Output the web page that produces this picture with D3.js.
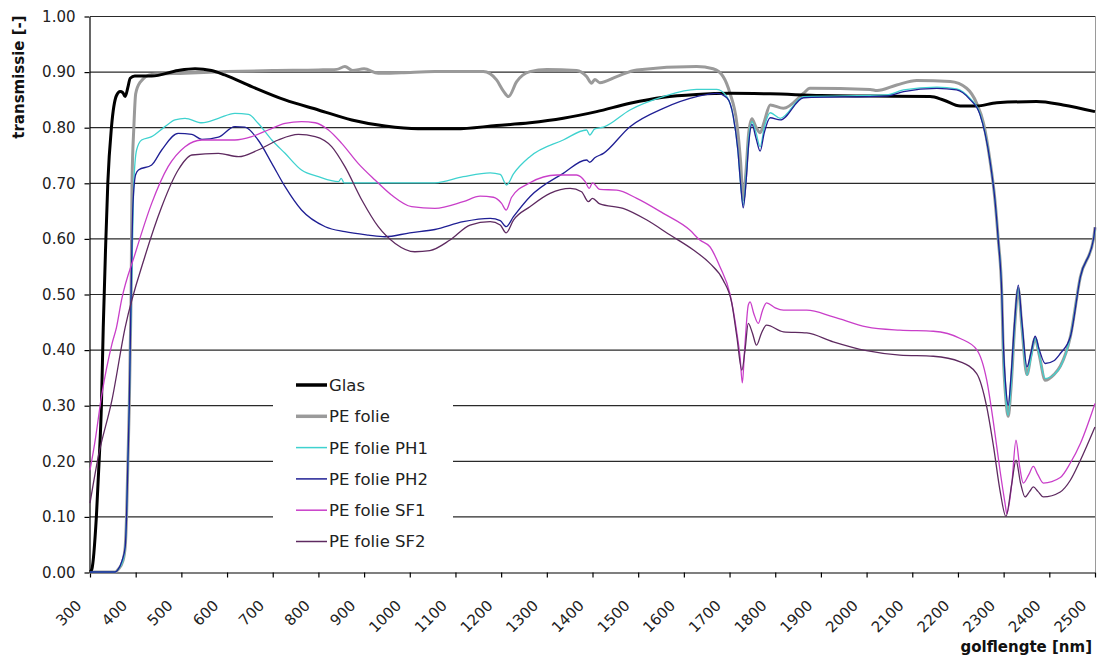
<!DOCTYPE html>
<html>
<head>
<meta charset="utf-8">
<script src="https://cdn.jsdelivr.net/npm/d3@7"></script>
<style>
  html, body { margin: 0; padding: 0; background: #ffffff; }
  svg { display: block; font-family: "DejaVu Sans", Verdana, sans-serif; }
</style>
</head>
<body>
<svg id="chart" width="1099" height="661"></svg>
<script>
// Transmission spectra: wavelength (nm) and transmission (-) per sample
const glasNm = [300,304,314,320,325,329,334,339,347,358,366,372,377,383,388,398,435,493,530,566,595,654,727,800,873,946,1018,1100,1190,1263,1336,1409,1482,1555,1628,1700,1789,1900,2008,2139,2168,2205,2241,2285,2372,2430,2500];
const glasT  = [0.00,0.005,0.10,0.20,0.30,0.44,0.58,0.70,0.80,0.857,0.864,0.862,0.855,0.872,0.888,0.892,0.892,0.902,0.905,0.902,0.894,0.873,0.849,0.831,0.813,0.802,0.797,0.797,0.803,0.808,0.816,0.828,0.843,0.854,0.859,0.861,0.860,0.857,0.856,0.855,0.849,0.838,0.838,0.844,0.846,0.840,0.828];

const peNm = [300,355,362,372,377,380,383,386,388,390,392,396,400,409,435,508,600,700,800,840,858,875,900,931,982,1055,1161,1190,1205,1216,1234,1263,1300,1365,1387,1398,1405,1416,1453,1497,1628,1664,1686,1701,1716,1724,1730,1736,1742,1749,1758,1767,1776,1789,1818,1862,1876,2008,2023,2066,2110,2183,2219,2241,2256,2270,2281,2288,2296,2299,2305,2310,2316,2324,2332,2340,2351,2360,2369,2378,2391,2410,2424,2446,2468,2497,2500];
const peT  = [0,0,0.005,0.02,0.045,0.10,0.20,0.30,0.40,0.50,0.70,0.80,0.86,0.88,0.895,0.897,0.90,0.902,0.903,0.904,0.909,0.902,0.905,0.897,0.898,0.90,0.90,0.885,0.865,0.855,0.882,0.90,0.904,0.902,0.891,0.879,0.886,0.880,0.891,0.903,0.909,0.905,0.891,0.861,0.807,0.74,0.67,0.72,0.79,0.815,0.80,0.79,0.81,0.84,0.834,0.861,0.870,0.868,0.866,0.876,0.884,0.882,0.870,0.843,0.807,0.741,0.669,0.60,0.50,0.40,0.31,0.28,0.33,0.44,0.51,0.44,0.355,0.39,0.42,0.39,0.345,0.355,0.37,0.423,0.531,0.60,0.62];

const ph1Nm = [300,355,362,372,377,380,383,386,388,392,396,402,413,435,464,486,508,545,581,617,647,668,698,727,763,800,844,850,856,909,1000,1055,1117,1176,1198,1212,1227,1263,1336,1387,1394,1405,1424,1482,1555,1628,1672,1694,1708,1718,1724,1730,1736,1742,1749,1758,1767,1776,1789,1811,1862,2044,2081,2154,2197,2226,2248,2270,2281,2288,2296,2299,2305,2310,2316,2324,2332,2340,2351,2360,2369,2378,2391,2410,2424,2446,2468,2497,2500];
const ph1T  = [0,0,0.005,0.02,0.045,0.10,0.20,0.30,0.40,0.55,0.70,0.759,0.777,0.783,0.801,0.813,0.816,0.808,0.816,0.825,0.823,0.807,0.777,0.753,0.723,0.711,0.702,0.708,0.70,0.70,0.70,0.70,0.711,0.718,0.715,0.696,0.716,0.747,0.777,0.795,0.786,0.797,0.80,0.831,0.855,0.868,0.868,0.855,0.82,0.76,0.70,0.66,0.71,0.78,0.81,0.79,0.765,0.80,0.826,0.816,0.855,0.858,0.867,0.872,0.869,0.852,0.825,0.741,0.669,0.60,0.50,0.40,0.31,0.282,0.33,0.44,0.51,0.44,0.354,0.385,0.42,0.39,0.348,0.355,0.369,0.423,0.531,0.60,0.615];

const ph2Nm = [300,355,360,370,377,380,383,386,388,391,394,400,406,435,457,493,523,545,581,617,639,668,698,727,763,815,858,909,946,1000,1055,1117,1176,1198,1211,1227,1263,1336,1387,1394,1405,1424,1482,1555,1628,1672,1694,1708,1718,1724,1730,1736,1742,1749,1758,1767,1776,1789,1811,1862,2044,2081,2154,2197,2226,2248,2270,2281,2288,2296,2299,2305,2310,2316,2324,2332,2340,2351,2360,2369,2378,2391,2410,2424,2446,2468,2497,2500];
const ph2T  = [0,0,0.003,0.02,0.045,0.10,0.20,0.30,0.40,0.55,0.66,0.715,0.723,0.732,0.759,0.789,0.787,0.778,0.782,0.801,0.80,0.777,0.735,0.693,0.651,0.621,0.612,0.606,0.603,0.61,0.616,0.630,0.636,0.632,0.621,0.639,0.675,0.717,0.741,0.737,0.745,0.753,0.801,0.834,0.855,0.861,0.853,0.82,0.76,0.70,0.655,0.70,0.77,0.805,0.78,0.757,0.79,0.817,0.813,0.853,0.856,0.864,0.870,0.867,0.850,0.823,0.74,0.669,0.60,0.50,0.42,0.33,0.30,0.35,0.45,0.516,0.45,0.369,0.395,0.424,0.40,0.375,0.38,0.393,0.423,0.531,0.60,0.62];

const sf1Nm = [300,310,326,348,358,369,399,435,471,508,545,617,654,690,727,763,793,822,851,887,924,960,1004,1055,1117,1154,1183,1201,1211,1223,1263,1322,1365,1384,1393,1400,1416,1453,1497,1555,1613,1635,1657,1679,1701,1716,1723,1728,1733,1741,1745,1753,1763,1772,1781,1800,1818,1869,1927,2000,2073,2146,2205,2241,2263,2278,2292,2303,2307,2318,2327,2335,2343,2355,2365,2375,2387,2424,2446,2468,2500];
const sf1T  = [0.183,0.23,0.32,0.41,0.44,0.489,0.573,0.663,0.729,0.765,0.777,0.777,0.783,0.795,0.807,0.81,0.808,0.795,0.771,0.735,0.705,0.678,0.657,0.654,0.666,0.676,0.674,0.663,0.651,0.674,0.70,0.714,0.714,0.702,0.69,0.70,0.688,0.687,0.672,0.645,0.615,0.597,0.585,0.549,0.50,0.43,0.387,0.34,0.40,0.48,0.486,0.465,0.447,0.47,0.484,0.475,0.471,0.471,0.459,0.441,0.435,0.433,0.420,0.40,0.345,0.267,0.183,0.124,0.105,0.16,0.237,0.19,0.16,0.175,0.19,0.175,0.16,0.17,0.196,0.231,0.303];

const sf2Nm = [300,318,348,377,420,457,493,523,581,625,668,712,756,793,829,858,895,931,968,1011,1044,1088,1132,1176,1198,1211,1227,1263,1307,1351,1376,1391,1400,1416,1467,1519,1570,1621,1657,1686,1705,1716,1727,1734,1741,1750,1759,1770,1781,1818,1869,1927,2000,2073,2146,2205,2241,2263,2278,2292,2305,2318,2327,2337,2347,2357,2365,2375,2387,2424,2446,2468,2500];
const sf2T  = [0.124,0.207,0.309,0.44,0.567,0.657,0.723,0.75,0.753,0.747,0.759,0.777,0.787,0.783,0.765,0.729,0.669,0.621,0.591,0.576,0.578,0.597,0.624,0.630,0.624,0.61,0.633,0.657,0.681,0.690,0.684,0.666,0.672,0.662,0.654,0.633,0.606,0.579,0.555,0.525,0.483,0.423,0.363,0.40,0.447,0.43,0.408,0.43,0.444,0.432,0.430,0.414,0.398,0.39,0.388,0.378,0.357,0.297,0.225,0.147,0.10,0.16,0.201,0.16,0.135,0.145,0.153,0.145,0.135,0.144,0.165,0.201,0.261];

const seriesNames = ["Glas", "PE folie", "PE folie PH1", "PE folie PH2", "PE folie SF1", "PE folie SF2"];
const xTicks = [300,400,500,600,700,800,900,1000,1100,1200,1300,1400,1500,1600,1700,1800,1900,2000,2100,2200,2300,2400,2500];
const yTicks = [0,0.1,0.2,0.3,0.4,0.5,0.6,0.7,0.8,0.9,1.0];

const series = [
  { name: seriesNames[1], nm: peNm,   t: peT,   color: "#9a9a9a", width: 3 },
  { name: seriesNames[0], nm: glasNm, t: glasT, color: "#000000", width: 3 },
  { name: seriesNames[2], nm: ph1Nm,  t: ph1T,  color: "#3fd2cf", width: 1.3 },
  { name: seriesNames[3], nm: ph2Nm,  t: ph2T,  color: "#1f1f94", width: 1.3 },
  { name: seriesNames[4], nm: sf1Nm,  t: sf1T,  color: "#c93fc9", width: 1.3 },
  { name: seriesNames[5], nm: sf2Nm,  t: sf2T,  color: "#5e2a60", width: 1.3 }
];

const plot = { left: 90, right: 1095, top: 16, bottom: 572 };
const svg = d3.select("#chart");

const x = d3.scaleLinear().domain([300, 2500]).range([plot.left, plot.right]);
const y = d3.scaleLinear().domain([0, 1]).range([plot.bottom, plot.top]);

// horizontal gridlines
svg.append("g")
  .selectAll("line")
  .data(yTicks.filter(v => v > 0))
  .join("line")
  .attr("x1", plot.left).attr("x2", plot.right)
  .attr("y1", d => y(d) + 0.5).attr("y2", d => y(d) + 0.5)
  .attr("stroke", "#2a2a2a").attr("stroke-width", 1.2);

// right border of the plot area
svg.append("line")
  .attr("x1", plot.right + 0.5).attr("x2", plot.right + 0.5)
  .attr("y1", plot.top).attr("y2", plot.bottom)
  .attr("stroke", "#9a9a9a").attr("stroke-width", 1);

// y axis
const yAxis = svg.append("g")
  .attr("transform", `translate(${plot.left - 0.5},0.5)`)
  .call(d3.axisLeft(y).tickValues(yTicks).tickFormat(d3.format(".2f")).tickSize(5).tickSizeOuter(0));
yAxis.select(".domain").attr("stroke", "#000").attr("stroke-width", 1.2);
yAxis.selectAll(".tick line").attr("stroke", "#000").attr("stroke-width", 1.2);
yAxis.selectAll(".tick text")
  .attr("x", -14)
  .attr("font-family", "DejaVu Sans")
  .attr("font-size", 15)
  .attr("fill", "#222");

// x axis
const xAxis = svg.append("g")
  .attr("transform", `translate(0,${plot.bottom + 0.5})`)
  .call(d3.axisBottom(x).tickValues(xTicks).tickFormat(d3.format("d")).tickSize(5).tickSizeOuter(0));
xAxis.select(".domain").attr("stroke", "#000").attr("stroke-width", 1.2);
xAxis.selectAll(".tick line").attr("stroke", "#000").attr("stroke-width", 1.2);
xAxis.selectAll(".tick text")
  .attr("x", null).attr("y", null).attr("dy", null)
  .attr("text-anchor", "end")
  .attr("transform", "translate(-8,34) rotate(-45)")
  .attr("font-family", "DejaVu Sans")
  .attr("font-size", 15)
  .attr("fill", "#222");

// spectra
const line = d3.line()
  .x(d => x(d[0]))
  .y(d => y(d[1]))
  .curve(d3.curveMonotoneX);

svg.append("g")
  .selectAll("path")
  .data(series)
  .join("path")
  .attr("d", s => line(s.nm.map((n, i) => [n, s.t[i]])))
  .attr("fill", "none")
  .attr("stroke", s => s.color)
  .attr("stroke-width", s => s.width)
  .attr("stroke-linejoin", "round");

// legend
const legendOrder = seriesNames.map(n => series.find(s => s.name === n));
const legend = svg.append("g");
legend.append("rect")
  .attr("x", 273).attr("y", 368)
  .attr("width", 180).attr("height", 190)
  .attr("fill", "#ffffff");
const item = legend.selectAll("g.item")
  .data(legendOrder)
  .join("g")
  .attr("class", "item")
  .attr("transform", (d, i) => `translate(0,${385 + i * 31.3})`);
item.append("line")
  .attr("x1", 296).attr("x2", 327)
  .attr("y1", 0).attr("y2", 0)
  .attr("stroke", d => d.color)
  .attr("stroke-width", d => d.width >= 2 ? 3.5 : 1.5);
item.append("text")
  .attr("x", 329).attr("y", 0)
  .attr("dy", "0.36em")
  .attr("font-family", "DejaVu Sans")
  .attr("font-size", 16.5)
  .attr("fill", "#222")
  .text(d => d.name);

// axis titles
svg.append("text")
  .attr("transform", "translate(24,77) rotate(-90)")
  .attr("text-anchor", "middle")
  .attr("font-family", "DejaVu Sans")
  .attr("font-weight", "bold")
  .attr("font-size", 15)
  .attr("fill", "#111")
  .text("transmissie [-]");

svg.append("text")
  .attr("x", 1092).attr("y", 652)
  .attr("text-anchor", "end")
  .attr("font-family", "DejaVu Sans")
  .attr("font-weight", "bold")
  .attr("font-size", 15)
  .attr("fill", "#111")
  .text("golflengte [nm]");
</script>
</body>
</html>
